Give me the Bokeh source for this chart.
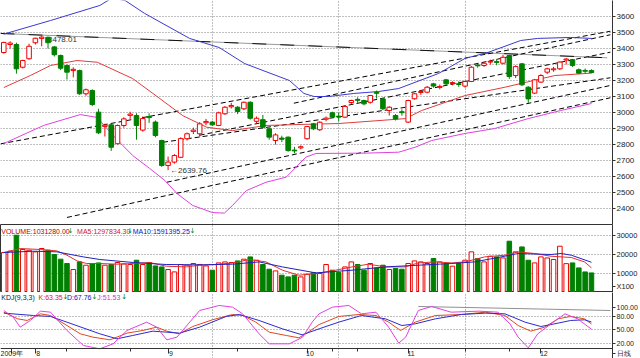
from bokeh.plotting import figure
from bokeh.layouts import column
from bokeh.models import Range1d, FixedTicker, ColumnDataSource, PrintfTickFormatter
from bokeh.core.properties import value
from bokeh.embed import file_html
from bokeh.resources import INLINE

# ---------------- data ----------------
opens = [3375, 3425, 3425, 3283, 3336, 3436, 3463, 3470, 3410, 3356,
         3294, 3262, 3262, 3117, 3137, 3002, 2913, 2923, 2805, 2919,
         2982, 2981, 2890, 2975, 2940, 2825, 2669, 2690, 2720, 2836,
         2882, 2867, 2936, 2940, 2919, 2992, 3036, 3033, 3023, 3064,
         2945, 2955, 2898, 2825, 2840, 2846, 2765, 2779, 2836, 2929,
         2892, 2958, 2998, 2977, 2971, 3062, 3082, 3075, 3064, 3126,
         3085, 3012, 2981, 3005, 2940, 3086, 3125, 3127, 3179, 3157,
         3204, 3181, 3180, 3165, 3194, 3297, 3294, 3315, 3318, 3308,
         3356, 3231, 3304, 3158, 3121, 3190, 3252, 3267, 3273, 3328,
         3330, 3267, 3263, 3262]
highs = [3442, 3445, 3436, 3330, 3430, 3468, 3478.01, 3475, 3415, 3362,
         3300, 3282, 3268, 3150, 3145, 3023, 2930, 2930, 2925, 2970,
         3005, 2995, 2975, 2995, 2950, 2830, 2725, 2740, 2845, 2875,
         2905, 2940, 2960, 2948, 3005, 3040, 3060, 3040, 3068, 3070,
         2975, 2985, 2905, 2870, 2855, 2850, 2785, 2795, 2915, 2935,
         2945, 2975, 3005, 3000, 3045, 3080, 3095, 3080, 3110, 3137,
         3090, 3040, 2990, 3020, 3080, 3122, 3140, 3165, 3185, 3175,
         3210, 3195, 3195, 3200, 3290, 3305, 3315, 3330, 3335, 3361,
         3360, 3295, 3310, 3165, 3210, 3240, 3280, 3285, 3320, 3340,
         3335, 3275, 3275, 3270]
lows = [3368, 3400, 3243, 3275, 3330, 3425, 3414, 3400, 3350, 3265,
        3206, 3220, 3110, 3105, 3040, 2865, 2850, 2760, 2800, 2905,
        2960, 2830, 2880, 2935, 2845, 2660, 2639.76, 2680, 2715, 2825,
        2865, 2850, 2920, 2915, 2915, 2985, 3025, 2990, 3015, 2955,
        2930, 2900, 2830, 2800, 2815, 2755, 2745, 2770, 2830, 2890,
        2885, 2945, 2965, 2945, 2965, 3050, 3060, 3045, 3055, 3087,
        3015, 2981, 2950, 2980, 2935, 3080, 3110, 3120, 3155, 3145,
        3170, 3170, 3160, 3155, 3190, 3280, 3285, 3300, 3295, 3300,
        3210, 3215, 3165, 3060, 3115, 3185, 3240, 3255, 3265, 3300,
        3285, 3240, 3245, 3245]
closes = [3438, 3434, 3273, 3325, 3414, 3464, 3471, 3436, 3361, 3277,
          3252, 3270, 3117, 3142, 3050, 2873, 2921, 2783, 2919, 2960,
          2990, 2919, 2962, 2968, 2856, 2669, 2690, 2731, 2837, 2867,
          2890, 2929, 2944, 2923, 2998, 3033, 3044, 3006, 3064, 2964,
          2964, 2908, 2846, 2860, 2833, 2762, 2760, 2786, 2912, 2898,
          2939, 2965, 2972, 2972, 3037, 3075, 3076, 3054, 3106, 3120,
          3023, 3033, 2960, 2999, 3075, 3117, 3131, 3158, 3165, 3163,
          3179, 3187, 3175, 3194, 3283, 3292, 3308, 3320, 3313, 3345,
          3225, 3287, 3173, 3085, 3204, 3231, 3273, 3273, 3315, 3334,
          3294, 3246, 3258, 3250]
# volume in units of 100 (axis is "X100")
volumes = [21050, 21740, 30160, 22630, 22260, 21400, 23160, 22260, 20000, 17530,
           15260, 12100, 16110, 14370, 15260, 15580, 14370, 14740, 15790, 15050,
           14740, 17000, 14740, 15790, 14000, 13470, 12100, 10840, 14740, 14370,
           15260, 14740, 14000, 11740, 15580, 16110, 15790, 16630, 17530, 18740,
           17000, 14740, 12260, 11370, 9100, 8210, 9100, 8210, 9630, 10530,
           10000, 14740, 11740, 10530, 13470, 16110, 14740, 11740, 15260, 12950,
           14370, 12100, 12630, 12260, 15260, 16630, 16110, 15260, 17890, 16110,
           15260, 13840, 15260, 17000, 21400, 17890, 16110, 19100, 18740, 18210,
           27000, 21400, 24000, 17000, 15580, 18740, 18200, 17370, 24370, 15200,
           15580, 12950, 10840, 10312.8]

# Bollinger bands
boll_up_x = [0, 7.4, 15.2, 17.1, 19.2, 22.3, 29.4, 34.1, 38.1, 45.2, 47.5, 49.1,
             51.4, 55.4, 59.3, 62.5, 68.8, 73, 76.6, 81.8, 84.5, 89.7, 93]
boll_up = [3490, 3575, 3669, 3715, 3700, 3619, 3463, 3406, 3306, 3200, 3119, 3100,
           3100, 3119, 3131, 3150, 3244, 3338, 3375, 3450, 3463, 3469, 3463]
boll_mid_x = [0, 4.2, 7.4, 11.6, 14.8, 20.4, 24.7, 28.3, 32.1, 36.2, 41.5, 46.7,
              53, 63.6, 66.1, 73, 79.3, 81.8, 87.2, 93]
boll_mid = [3156, 3231, 3294, 3325, 3314, 3212, 3087, 2981, 2908, 2887, 2919, 2925,
            2931, 2962, 3012, 3106, 3158, 3181, 3231, 3246]
boll_low_x = [0, 6.3, 12.1, 14.8, 17.3, 20.4, 23.1, 25.5, 27.4, 29.9, 33, 34.9,
              36.2, 38.4, 41.5, 44.7, 47.8, 49.4, 57.3, 62.5, 65.1, 67.7, 73, 77.7,
              83, 88.1, 93]
boll_low = [2806, 2919, 2987, 2969, 2856, 2731, 2650, 2575, 2494, 2419, 2375, 2371,
            2419, 2512, 2564, 2596, 2721, 2744, 2746, 2752, 2783, 2825, 2869, 2900,
            2962, 3012, 3056]

# trend lines (start index, start price, end index, end price)
trend_x0 = [-0.52, 45.9, 25.2, 31.0, 25.8, 10.0]
trend_y0 = [2804, 3058, 2814, 2858, 2564, 2344]
trend_x1 = [96.0, 96.0, 96.0, 96.0, 96.0, 96.0]
trend_y1 = [3508, 3486, 3217, 3377, 3169, 3092]
top_line_x = [-0.52, 95.5]
top_line_y = [3494, 3342]

# volume moving averages
vol_ma5_x = [0, 2.6, 5.8, 8.4, 10, 11.6, 13.1, 15.2, 17.9, 20.5, 23.1, 25.7, 28.9,
             31, 33.6, 36.2, 38.9, 41.5, 44.1, 46.7, 49.4, 52.5, 55.1, 57.7, 60.4,
             63.5, 65.6, 68.3, 70.9, 73, 76.1, 79.3, 81.4, 84, 86.6, 89.8, 91.9, 93]
vol_ma5 = [21050, 23160, 22630, 21920, 19650, 16630, 15260, 15260, 14900, 15260,
           15790, 13840, 13470, 14370, 14740, 15580, 17370, 16110, 11740, 9100,
           10000, 11740, 13470, 14900, 13470, 13470, 15580, 16110, 15580, 16110,
           18740, 19650, 21400, 20530, 19100, 18420, 16110, 12978.343]
vol_ma10_x = [0, 4.7, 8.4, 12.6, 15.2, 20.5, 25.7, 31, 36.2, 40.4, 44.1, 49.4,
              55.1, 60.4, 65.6, 70.9, 74.5, 78.2, 81.4, 86.6, 88.2, 89.8, 93]
vol_ma10 = [21050, 21740, 21400, 18740, 17370, 15790, 14740, 14550, 14900, 16110,
            13470, 10320, 11740, 13470, 14370, 15260, 16110, 18420, 20530, 20000,
            20530, 19650, 15913.9525]

# KDJ(9,3,3)
k_x = [0, 2.2, 3.7, 5.8, 7.4, 10, 12.1, 14.1, 16.8, 19.5, 22, 24.2, 25.8, 27.8,
       29.9, 33, 36.2, 37.8, 39.9, 42, 44.7, 46.7, 47.8, 49.9, 53, 56.2, 58.9,
       60.9, 62.8, 65.1, 68.3, 72.4, 76.2, 79.3, 81.4, 83.4, 85.6, 87.7, 89.7,
       91.9, 93]
k_val = [89.9, 74.9, 71.2, 86.2, 82.4, 59.9, 41.2, 33.7, 27.6, 42.7, 48.7, 56.2,
         47.2, 41.2, 57.6, 72.7, 84.7, 82.4, 67.4, 44.9, 37.4, 32.2, 41.2, 62.0,
         80.2, 84.7, 82.4, 67.4, 48.7, 67.4, 82.4, 84.7, 89.9, 82.4, 59.9, 47.2,
         56.2, 74.9, 80.2, 74.9, 63.35]
d_x = [0, 4.7, 7.4, 10, 15.2, 17.9, 20.4, 23.6, 25.8, 27.8, 31, 35.2, 37.3, 40.4,
       44.1, 47.2, 49.9, 53, 56.6, 60.4, 63, 65.1, 68.3, 72.4, 76.2, 79.3, 82.5,
       85, 87.7, 89.7, 91.9, 93]
d_val = [87.7, 82.4, 80.2, 67.4, 41.2, 29.9, 37.4, 47.2, 44.9, 42.7, 56.2, 80.2,
         84.7, 71.2, 52.4, 38.9, 52.4, 67.4, 82.4, 74.9, 59.9, 63.6, 74.9, 84.7,
         87.7, 86.2, 67.4, 57.6, 65.2, 71.2, 72.7, 67.76]
j_x = [0, 1.5, 2.6, 4.2, 5.8, 7.4, 10, 12.6, 15.2, 17.3, 19.5, 22.6, 24.2, 25.8,
       27.4, 31, 34.1, 36.2, 37.8, 40.4, 42, 45.2, 47.3, 48.8, 49.9, 52, 54.6,
       56.6, 58.9, 60.9, 62.5, 63.6, 65.6, 67.7, 70.8, 75.1, 78.2, 80.1, 81.4,
       83, 84.5, 86.6, 88.8, 90.8, 93]
j_val = [93.7, 78.7, 56.2, 71.2, 92.2, 89.9, 48.7, 14.9, 7.4, 18.6, 48.7, 67.4,
         56.2, 27.6, 33.7, 93.7, 105, 101.2, 86.2, 41.2, 18.6, 18.6, 33.7, 67.4,
         86.2, 101.2, 105, 86.2, 89.9, 56.2, 20.1, 33.7, 93.7, 102.7, 89.9, 92.2,
         89.9, 63.6, 33.7, 9.6, 41.2, 63.6, 86.2, 74.9, 51.53]
kdj_extra_x = [65.6, 96.0]
kdj_extra_y = [102.7, 93.7]

price_ticks = [2400, 2500, 2600, 2700, 2800, 2900, 3000, 3100, 3200, 3300, 3400, 3500, 3600]
vol_ticks = [10000.0, 20000.0, 30000.0]
vol_unit_tick = 3400.0        # where the "X100" unit tag sits on the volume axis
kdj_ticks = [20, 50, 80, 100]
kdj_axis_level = 7.0          # KDJ value at which the date axis is drawn
period_tick = -3.2            # where the "日线" tag sits on the KDJ axis
month_ticks = [1.2, 5, 26, 48, 64, 85]
month_labels = ["2009年", "8", "9", "10", "11", "12"]
minor_day_ticks = [10, 20, 37, 52, 56, 73, 80]
vgrid_ticks = [33, 53, 73]
high_label = "3478.01"
low_label = "2639.76"

# ---------------- styling ----------------
UP = "#f00000"
DN = "#008000"
FONT = "Liberation Sans"
AX = "#333333"
GRID = "#808080"
NB = "\u00a0"

idx = list(range(len(opens)))
up = [c >= o for o, c in zip(opens, closes)]
src = ColumnDataSource(dict(
    x=idx, h=highs, l=lows,
    top=[max(o, c) for o, c in zip(opens, closes)],
    bot=[min(o, c) for o, c in zip(opens, closes)],
    col=[UP if u else DN for u in up],
    fill=["white" if u else DN for u in up],
    v=volumes))

xr = Range1d(-0.52, 96.33)


def make(height, yr, ticks, grid_ticks, xloc=None, font_size="8px"):
    p = figure(width=640, height=height, x_range=xr, y_range=yr,
               output_backend="svg", toolbar_location=None,
               y_axis_location="right", x_axis_location=xloc,
               min_border_left=0, min_border_top=0, min_border_bottom=0,
               min_border_right=25)
    p.background_fill_color = "white"
    p.border_fill_color = "white"
    p.yaxis.ticker = FixedTicker(ticks=ticks)
    p.yaxis.axis_line_color = AX
    p.yaxis.major_tick_line_color = AX
    p.yaxis.minor_tick_line_color = None
    p.yaxis.major_tick_out = 3
    p.yaxis.major_tick_in = 0
    p.yaxis.major_label_standoff = 1
    p.yaxis.major_label_text_font = FONT
    p.yaxis.major_label_text_font_size = font_size
    p.yaxis.major_label_text_color = "#222222"
    p.ygrid.ticker = FixedTicker(ticks=grid_ticks)
    p.ygrid.grid_line_color = GRID
    p.ygrid.grid_line_dash = "1 2"
    p.xgrid.ticker = FixedTicker(ticks=vgrid_ticks)
    p.xgrid.grid_line_color = GRID
    p.xgrid.grid_line_dash = "1 2"
    return p


# ---------------- main price panel ----------------
p1 = make(224, Range1d(2300, 3700), price_ticks, price_ticks)
p1.outline_line_color = None

p1.line(top_line_x, top_line_y, line_color="#9a9a9a", line_width=1)
p1.line(top_line_x, top_line_y, line_color="#111111", line_width=1, line_dash="14 14")
p1.segment(trend_x0, trend_y0, trend_x1, trend_y1, line_color="#000000",
           line_width=1, line_dash="5 3")

p1.line(boll_up_x, boll_up, line_color="#3a3ad0", line_width=1)
p1.line(boll_mid_x, boll_mid, line_color="#e03c3c", line_width=1)
p1.line(boll_low_x, boll_low, line_color="#e040e0", line_width=1)

p1.text(x=[7.0], y=[3456], text=[high_label], text_font=value(FONT),
        text_font_size="8px", text_color="#333333", text_baseline="middle")

p1.segment("x", "h", "x", "l", source=src, line_color="col", line_width=1)
p1.vbar(x="x", width=0.72, top="top", bottom="bot", source=src,
        fill_color="fill", line_color="col", line_width=1)

p1.text(x=[26.3], y=[2639.76], text=["\u2190" + low_label], text_font=value(FONT),
        text_font_size="8px", text_color="#333333", text_baseline="middle")

# ---------------- volume panel ----------------
p2 = make(68, Range1d(0, 35800), [vol_unit_tick] + vol_ticks, vol_ticks, font_size="7.5px")
p2.yaxis.major_label_overrides = {vol_unit_tick: "X100"}
p2.outline_line_color = AX
p2.vbar(x="x", width=0.72, top="v", bottom=0, source=src,
        fill_color="fill", line_color="col", line_width=1)
p2.line(vol_ma5_x, vol_ma5, line_color="#e03030", line_width=1)
p2.line(vol_ma10_x, vol_ma10, line_color="#2020c0", line_width=1)

hy = 32300
p2.text(x=[-0.4], y=[hy], text=["VOLUME:%.2f" % (volumes[-1] * 100)],
        text_font=value(FONT), text_font_size="7px", text_color="#b00000",
        text_baseline="middle")
p2.text(x=[11.6], y=[hy], text=["MA5:%.2f" % (vol_ma5[-1] * 100)],
        text_font=value(FONT), text_font_size="7px", text_color="#d02020",
        text_baseline="middle")
p2.text(x=[20.4], y=[hy], text=["MA10:%.2f" % (vol_ma10[-1] * 100)],
        text_font=value(FONT), text_font_size="7px", text_color="#1010c0",
        text_baseline="middle")
p2.text(x=[10.1, 19.5, 29.4], y=[hy] * 3, text=["\u2193"] * 3,
        text_font=value("DejaVu Sans"), text_font_size="7px", text_color="#008000",
        text_baseline="middle")

# ---------------- KDJ panel (date axis drawn inside its lower edge) ----------------
p3 = make(66, Range1d(-14.4, 134.2), [period_tick] + kdj_ticks, [20, 50, 80],
          xloc="below", font_size="7px")
p3.outline_line_color = None
p3.xgrid.bounds = (kdj_axis_level, 134.2)
p3.yaxis.formatter = PrintfTickFormatter(format="%.2f")
p3.yaxis.major_label_overrides = {period_tick: "日线"}
p3.xaxis.fixed_location = kdj_axis_level
p3.xaxis.ticker = FixedTicker(ticks=month_ticks, minor_ticks=minor_day_ticks)
p3.xaxis.major_label_overrides = {t: (l if i == 0 else NB * 3 + l)
                                  for i, (t, l) in enumerate(zip(month_ticks, month_labels))}
p3.xaxis.axis_line_color = AX
p3.xaxis.major_tick_line_color = AX
p3.xaxis.minor_tick_line_color = AX
p3.xaxis.major_tick_out = 5
p3.xaxis.major_tick_in = 0
p3.xaxis.minor_tick_out = 3
p3.xaxis.minor_tick_in = 0
p3.xaxis.major_label_standoff = -4
p3.xaxis.major_label_text_font = FONT
p3.xaxis.major_label_text_font_size = "7px"
p3.xaxis.major_label_text_color = "#222222"

p3.line(kdj_extra_x, kdj_extra_y, line_color="#909090", line_width=1)
p3.line(k_x, k_val, line_color="#e04820", line_width=1)
p3.line(d_x, d_val, line_color="#2a2ad0", line_width=1)
p3.line(j_x, j_val, line_color="#e040e0", line_width=1)

ky = 123
p3.text(x=[-0.4], y=[ky], text=["KDJ(9,3,3)"], text_font=value(FONT),
        text_font_size="7px", text_color="#222222", text_baseline="middle")
p3.text(x=[5.5], y=[ky], text=["K:%.2f" % k_val[-1]], text_font=value(FONT),
        text_font_size="7px", text_color="#e02020", text_baseline="middle")
p3.text(x=[10.0], y=[ky], text=["D:%.2f" % d_val[-1]], text_font=value(FONT),
        text_font_size="7px", text_color="#1010c0", text_baseline="middle")
p3.text(x=[14.8], y=[ky], text=["J:%.2f" % j_val[-1]], text_font=value(FONT),
        text_font_size="7px", text_color="#d030d0", text_baseline="middle")
p3.text(x=[9.3, 13.9, 18.6], y=[ky] * 3, text=["\u2193"] * 3,
        text_font=value("DejaVu Sans"), text_font_size="7px", text_color="#008000",
        text_baseline="middle")

layout = column(p1, p2, p3, spacing=0)
open("out.html", "w").write(file_html(layout, INLINE))
